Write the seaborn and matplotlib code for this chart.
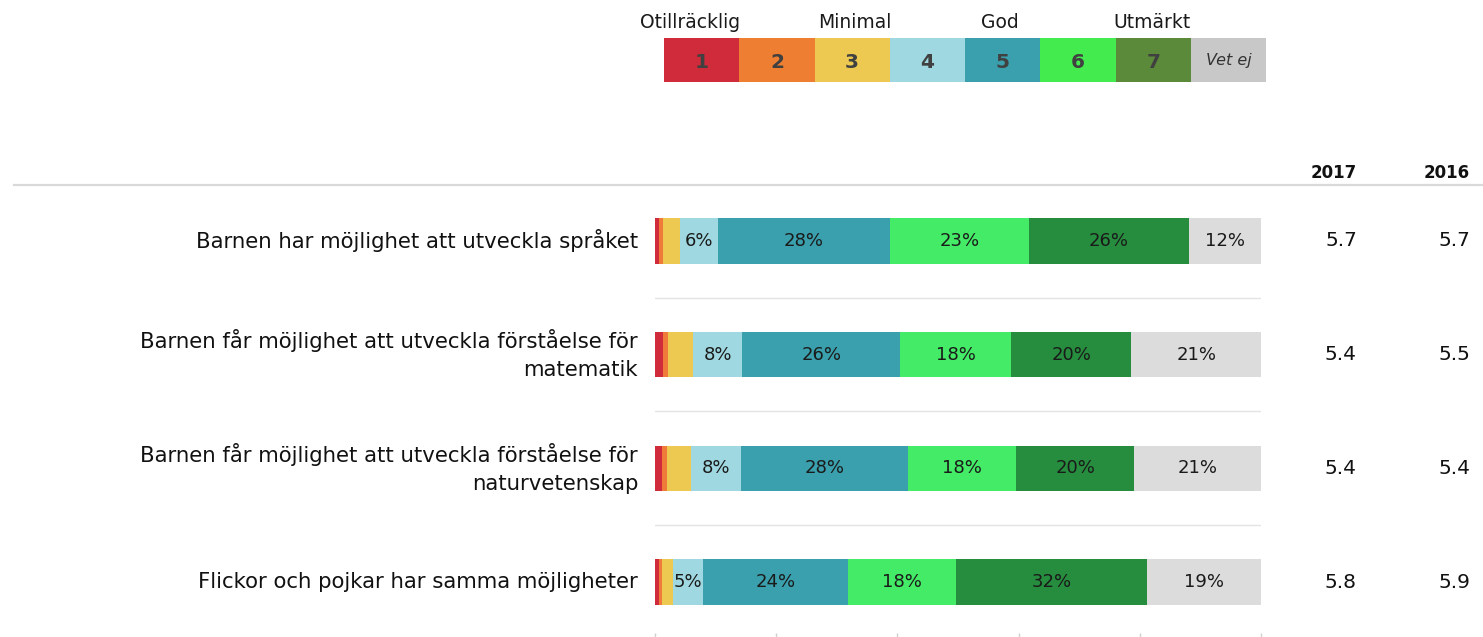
import matplotlib
matplotlib.use("Agg")
import matplotlib.pyplot as plt
import matplotlib.transforms as mtransforms
from matplotlib.lines import Line2D
import seaborn as sns
import pandas as pd
import numpy as np

# ---------------- data ----------------
questions = [
    "Barnen har möjlighet att utveckla språket",
    "Barnen får möjlighet att utveckla förståelse för\nmatematik",
    "Barnen får möjlighet att utveckla förståelse för\nnaturvetenskap",
    "Flickor och pojkar har samma möjligheter",
]
level_names = ["1", "2", "3", "4", "5", "6", "7", "Vet ej"]
lvl1 = [0.7, 1.3, 1.1, 0.7]
lvl2 = [0.6, 0.9, 0.9, 0.5]
lvl3 = [2.8, 4.1, 3.9, 1.8]
lvl4 = [6.3, 8.1, 8.3, 4.9]
lvl5 = [28.4, 26.1, 27.6, 23.9]
lvl6 = [22.9, 18.3, 17.8, 17.8]
lvl7 = [26.4, 19.8, 19.5, 31.6]
vet_ej = [11.9, 21.4, 20.9, 18.8]
scores_2017 = ["5.7", "5.4", "5.4", "5.8"]
scores_2016 = ["5.7", "5.5", "5.4", "5.9"]
year_headers = ["2017", "2016"]
scale_labels = ["Otillräcklig", "Minimal", "God", "Utmärkt"]

bar_colors = ["#D02B3A", "#EF7A3A", "#EDC952", "#9FD8E0", "#3AA0AD",
              "#44EB66", "#268C3E", "#DCDCDC"]
legend_colors = ["#D02B3A", "#EE7F32", "#EDC952", "#9FD8E0", "#3AA0AD",
                 "#44EB4E", "#5B8A3A", "#C8C8C8"]

levels = [lvl1, lvl2, lvl3, lvl4, lvl5, lvl6, lvl7, vet_ej]
rows = []
for qi, q in enumerate(questions):
    cum = 0.0
    for li, lv in enumerate(levels):
        v = lv[qi]
        rows.append({"question": q, "level": li, "value": v,
                     "start": cum, "end": cum + v})
        cum += v
df = pd.DataFrame(rows)

# ---------------- figure ----------------
W, H = 1483, 637
fig = plt.figure(figsize=(W / 100, H / 100), dpi=100)
fig.patch.set_facecolor("white")

def fx(px):
    return px / W

def fy(py):
    return 1 - py / H

ax_left, ax_right = 655, 1261
ax_top, ax_bot = 185, 633
ax = fig.add_axes([fx(ax_left), fy(ax_bot), fx(ax_right - ax_left),
                   (ax_bot - ax_top) / H])

label_font = ["DejaVu Sans"]

# stacked bars: draw cumulative ends from the last level to the first
for li in reversed(range(len(levels))):
    sub = df[df["level"] == li]
    sns.barplot(data=sub, x="end", y="question", order=questions,
                color=bar_colors[li], width=0.4, orient="h", ax=ax,
                saturation=1, errorbar=None, linewidth=0)

ax.set_xlim(0, 100)
ax.set_ylim(3.447, -0.49)
ax.set_xlabel("")
ax.set_ylabel("")
ax.set_yticks([])
ax.set_xticks([0, 20, 40, 60, 80, 100])
ax.set_xticklabels([])
ax.tick_params(axis="x", length=5, color="#d0d0d0", width=1, direction="out")
for s in ax.spines.values():
    s.set_visible(False)

for yy in [0.5, 1.5, 2.5]:
    ax.axhline(yy, color="#e3e3e3", lw=1)

# percent labels
for _, r in df.iterrows():
    if round(r["value"]) >= 5:
        qi = questions.index(r["question"])
        ax.text((r["start"] + r["end"]) / 2, qi, f"{round(r['value'])}%",
                ha="center", va="center", fontsize=13, color="#1a1a1a",
                family=label_font)

# question labels
for qi, q in enumerate(questions):
    ax.text(-0.028, qi, q, transform=mtransforms.blended_transform_factory(
        ax.transAxes, ax.transData), ha="right", va="center",
        multialignment="right", fontsize=15.3, color="#111111",
        family=label_font, linespacing=1.5)

# score columns
bt = mtransforms.blended_transform_factory(fig.transFigure, ax.transData)
col_right = [1357, 1470]
for ci, scores in enumerate([scores_2017, scores_2016]):
    for qi, s in enumerate(scores):
        ax.text(fx(col_right[ci]), qi, s, transform=bt, ha="right",
                va="center", fontsize=14.5, color="#111111",
                family=label_font)
    fig.text(fx(col_right[ci]), fy(173), year_headers[ci], ha="right",
             va="center", fontsize=12, fontweight="bold", color="#111111",
             family=label_font)

# top rule
fig.add_artist(Line2D([fx(14), fx(1483)], [fy(185), fy(185)],
                      transform=fig.transFigure, color="#d9d9d9", lw=1.6))

# ---------------- legend ----------------
lax = fig.add_axes([fx(664), fy(82), fx(1266 - 664), 44 / H])
leg_df = pd.DataFrame({"level": level_names, "h": [1] * 8})
sns.barplot(data=leg_df, x="level", y="h", hue="level",
            palette=legend_colors, width=1.0, ax=lax, saturation=1,
            legend=False, linewidth=0)
lax.set_xlim(-0.5, 7.5)
lax.set_ylim(0, 1)
lax.axis("off")
for i, name in enumerate(level_names):
    if name == "Vet ej":
        lax.text(i, 0.48, name, ha="center", va="center", fontsize=11.5,
                 style="italic", color="#333333", family=label_font)
    else:
        lax.text(i, 0.45, name, ha="center", va="center", fontsize=14.5,
                 fontweight="bold", color="#404040", family=label_font)

scale_x = [690, 855, 1000, 1152]
for t, x in zip(scale_labels, scale_x):
    fig.text(fx(x), fy(23), t, ha="center", va="center", fontsize=13.5,
             color="#1a1a1a", family=label_font)

fig.savefig("out.png", dpi=100, facecolor="white")
